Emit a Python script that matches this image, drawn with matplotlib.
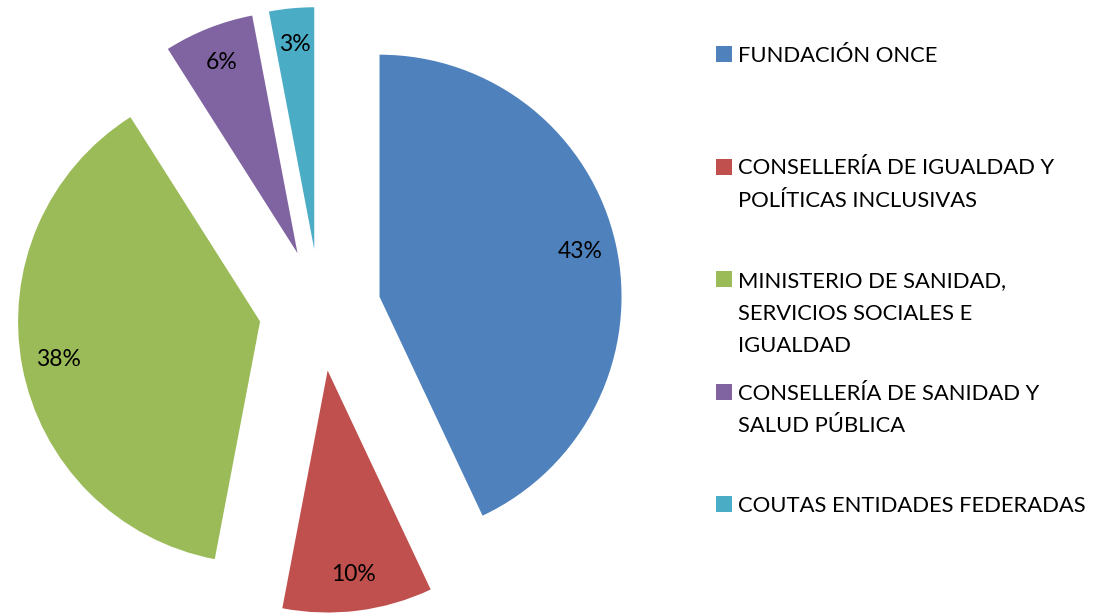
import matplotlib
matplotlib.use("Agg")
import matplotlib.pyplot as plt
from matplotlib.patches import Rectangle

categories = ["FUNDACIÓN ONCE",
              "CONSELLERÍA DE IGUALDAD Y\nPOLÍTICAS INCLUSIVAS",
              "MINISTERIO DE SANIDAD,\nSERVICIOS SOCIALES E\nIGUALDAD",
              "CONSELLERÍA DE SANIDAD Y\nSALUD PÚBLICA",
              "COUTAS ENTIDADES FEDERADAS"]
values = [43, 10, 38, 6, 3]
colors = ["#4F81BD", "#C0504D", "#9BBB59", "#8064A2", "#4BACC6"]

W, H = 1095, 614
FONT = "Lato"
FS = 15.8

fig = plt.figure(figsize=(W / 100, H / 100), dpi=100)
ax = fig.add_axes([0, 0, 1, 1])

wedges, texts, autotexts = ax.pie(
    values, colors=colors, startangle=90, counterclock=False,
    center=(320, H - 310), radius=242, explode=[61] * len(values),
    autopct=lambda p: f"{p:.0f}%", pctdistance=0.85,
    wedgeprops=dict(linewidth=0), frame=True,
    textprops=dict(fontsize=16.5, family=FONT, color="black"))
ax.set_xlim(0, W)
ax.set_ylim(0, H)
ax.set_aspect("equal")
ax.axis("off")

# legend
y0, step, lsp = 54, 112.5, 32.5
for i, (cat, col) in enumerate(zip(categories, colors)):
    yc = y0 + i * step
    ax.add_patch(Rectangle((716, H - yc - 8), 16, 16, facecolor=col, edgecolor="none"))
    for j, line in enumerate(cat.split("\n")):
        ax.text(738, H - (yc + j * lsp), line, fontsize=FS, family=FONT,
                va="center_baseline", ha="left", color="black")

fig.savefig("out.png", dpi=100)
